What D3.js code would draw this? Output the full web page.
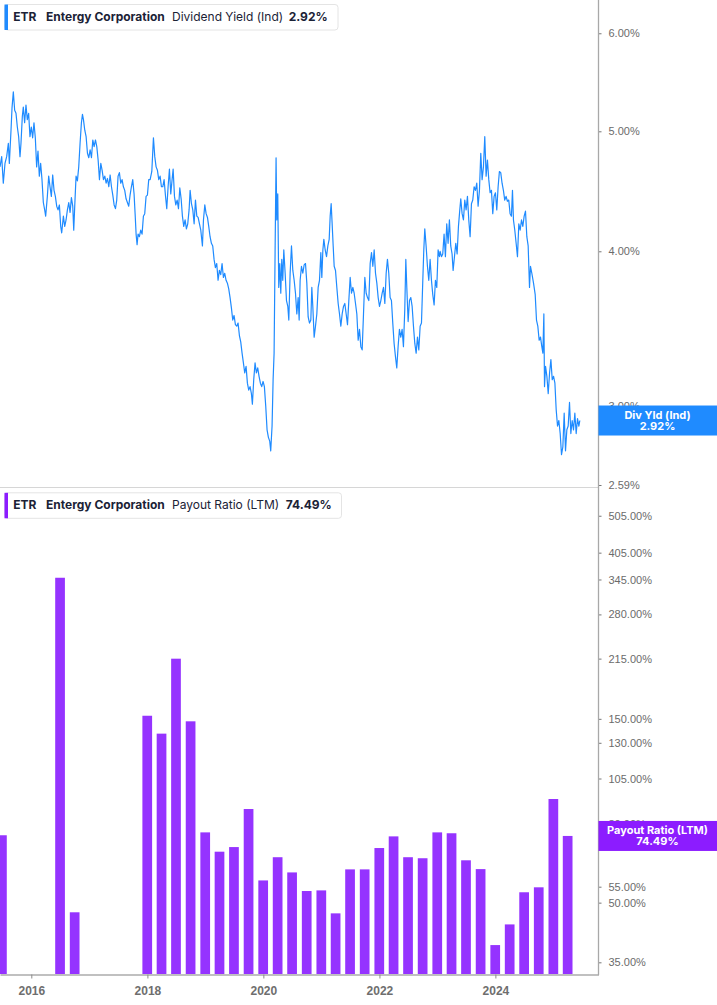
<!DOCTYPE html>
<html>
<head>
<meta charset="utf-8">
<script src="https://cdn.jsdelivr.net/npm/d3@7"></script>
<style>
  body { margin: 0; background: #fff; }
  svg { display: block; font-family: Inter, "Noto Sans", sans-serif; }
</style>
</head>
<body>
<svg width="717" height="1005"></svg>
<script>
// ETR dividend yield (Ind), [decimal year, %]
var yieldSeries = [
  [2015.460,4.68],[2015.489,4.77],[2015.517,4.54],[2015.546,4.71],[2015.575,4.77],[2015.604,4.89],[2015.621,4.71],[2015.650,5.01],
  [2015.667,5.22],[2015.690,5.38],[2015.713,5.20],[2015.736,5.17],[2015.759,5.04],[2015.782,4.95],[2015.805,4.77],[2015.822,4.89],
  [2015.845,5.14],[2015.862,5.23],[2015.885,5.08],[2015.908,5.25],[2015.931,5.11],[2015.954,5.17],[2015.977,4.95],[2016.000,5.04],
  [2016.023,4.94],[2016.046,5.08],[2016.069,4.94],[2016.092,4.68],[2016.115,4.82],[2016.138,4.60],[2016.161,4.71],[2016.184,4.57],
  [2016.207,4.38],[2016.230,4.32],[2016.247,4.27],[2016.276,4.43],[2016.299,4.60],[2016.322,4.51],[2016.345,4.43],[2016.368,4.61],
  [2016.391,4.48],[2016.414,4.43],[2016.437,4.35],[2016.460,4.32],[2016.483,4.36],[2016.506,4.19],[2016.523,4.14],[2016.552,4.27],
  [2016.575,4.19],[2016.598,4.24],[2016.621,4.32],[2016.644,4.38],[2016.667,4.30],[2016.690,4.42],[2016.713,4.35],[2016.730,4.16],
  [2016.747,4.35],[2016.770,4.60],[2016.793,4.56],[2016.816,4.68],[2016.839,4.89],[2016.862,5.08],[2016.880,5.16],[2016.897,5.11],
  [2016.920,5.01],[2016.943,4.95],[2016.966,4.80],[2016.989,4.76],[2017.012,4.83],[2017.035,4.76],[2017.058,4.92],[2017.081,4.86],
  [2017.104,4.92],[2017.127,4.86],[2017.150,4.74],[2017.173,4.57],[2017.196,4.71],[2017.219,4.65],[2017.242,4.57],[2017.265,4.60],
  [2017.288,4.54],[2017.311,4.58],[2017.334,4.51],[2017.357,4.61],[2017.380,4.51],[2017.403,4.44],[2017.426,4.36],[2017.449,4.33],
  [2017.471,4.40],[2017.494,4.60],[2017.517,4.63],[2017.540,4.54],[2017.563,4.57],[2017.586,4.51],[2017.609,4.48],[2017.632,4.41],
  [2017.655,4.38],[2017.678,4.35],[2017.701,4.44],[2017.724,4.51],[2017.747,4.57],[2017.770,4.45],[2017.788,4.29],[2017.805,4.13],
  [2017.822,4.05],[2017.839,4.13],[2017.862,4.11],[2017.885,4.16],[2017.908,4.13],[2017.931,4.27],[2017.954,4.29],[2017.977,4.43],
  [2018.000,4.44],[2018.023,4.57],[2018.047,4.57],[2018.076,4.64],[2018.104,4.94],[2018.127,4.77],[2018.150,4.68],[2018.173,4.65],
  [2018.196,4.57],[2018.219,4.60],[2018.242,4.51],[2018.265,4.51],[2018.288,4.57],[2018.311,4.44],[2018.334,4.33],[2018.357,4.51],
  [2018.380,4.66],[2018.403,4.45],[2018.426,4.57],[2018.444,4.66],[2018.467,4.43],[2018.490,4.36],[2018.513,4.40],[2018.536,4.33],
  [2018.559,4.50],[2018.582,4.41],[2018.604,4.27],[2018.627,4.19],[2018.650,4.24],[2018.673,4.17],[2018.696,4.21],[2018.719,4.32],
  [2018.737,4.48],[2018.760,4.37],[2018.783,4.32],[2018.806,4.21],[2018.829,4.40],[2018.852,4.27],[2018.875,4.26],[2018.898,4.21],
  [2018.921,4.16],[2018.949,4.04],[2018.967,4.24],[2018.990,4.36],[2019.013,4.29],[2019.036,4.26],[2019.058,4.19],[2019.081,4.11],
  [2019.104,4.06],[2019.127,4.04],[2019.150,3.94],[2019.173,3.88],[2019.196,3.91],[2019.219,3.79],[2019.242,3.86],[2019.265,3.83],
  [2019.288,3.91],[2019.311,3.81],[2019.334,3.84],[2019.357,3.79],[2019.380,3.77],[2019.403,3.73],[2019.426,3.67],[2019.449,3.60],
  [2019.472,3.52],[2019.495,3.55],[2019.518,3.49],[2019.541,3.48],[2019.564,3.50],[2019.587,3.42],[2019.610,3.38],[2019.633,3.31],
  [2019.656,3.25],[2019.679,3.19],[2019.702,3.23],[2019.725,3.13],[2019.748,3.09],[2019.771,3.11],[2019.794,3.07],[2019.811,3.01],
  [2019.834,3.15],[2019.857,3.25],[2019.880,3.19],[2019.903,3.22],[2019.926,3.17],[2019.949,3.13],[2019.972,3.11],[2019.995,3.14],
  [2020.018,3.11],[2020.041,3.00],[2020.064,2.87],[2020.087,2.83],[2020.110,2.81],[2020.127,2.76],[2020.150,2.89],[2020.168,3.15],
  [2020.185,3.31],[2020.202,3.99],[2020.219,4.76],[2020.231,4.24],[2020.248,4.45],[2020.265,3.74],[2020.283,3.91],[2020.300,3.70],
  [2020.317,3.94],[2020.334,3.79],[2020.352,4.01],[2020.375,3.84],[2020.398,3.65],[2020.421,3.61],[2020.438,3.52],[2020.461,3.84],
  [2020.484,4.04],[2020.507,3.86],[2020.530,3.79],[2020.553,3.70],[2020.576,3.56],[2020.599,3.67],[2020.616,3.52],[2020.633,3.79],
  [2020.656,3.89],[2020.679,3.84],[2020.702,3.90],[2020.725,3.91],[2020.748,3.77],[2020.771,3.54],[2020.794,3.50],[2020.817,3.52],
  [2020.834,3.74],[2020.851,3.61],[2020.874,3.41],[2020.897,3.48],[2020.920,3.56],[2020.943,3.74],[2020.966,3.79],[2020.989,3.99],
  [2021.006,3.81],[2021.024,4.01],[2021.041,4.09],[2021.064,4.01],[2021.087,3.96],[2021.110,4.04],[2021.133,4.09],[2021.150,4.27],
  [2021.167,4.37],[2021.184,4.21],[2021.202,4.04],[2021.219,3.89],[2021.242,3.86],[2021.265,3.74],[2021.288,3.63],[2021.311,3.56],
  [2021.334,3.48],[2021.357,3.56],[2021.380,3.61],[2021.403,3.63],[2021.426,3.56],[2021.449,3.49],[2021.472,3.65],[2021.495,3.81],
  [2021.518,3.70],[2021.541,3.74],[2021.564,3.70],[2021.587,3.63],[2021.610,3.56],[2021.633,3.39],[2021.656,3.46],[2021.679,3.35],
  [2021.702,3.33],[2021.725,3.56],[2021.748,3.81],[2021.771,3.70],[2021.794,3.67],[2021.817,3.65],[2021.840,3.91],[2021.863,3.99],
  [2021.886,3.89],[2021.909,4.01],[2021.932,3.84],[2021.955,3.77],[2021.978,3.67],[2022.001,3.61],[2022.024,3.65],[2022.047,3.70],
  [2022.070,3.74],[2022.093,3.63],[2022.116,3.84],[2022.138,3.94],[2022.161,3.84],[2022.184,3.67],[2022.207,3.65],[2022.230,3.50],
  [2022.253,3.37],[2022.276,3.29],[2022.299,3.22],[2022.322,3.35],[2022.345,3.46],[2022.368,3.41],[2022.391,3.46],[2022.414,3.35],
  [2022.437,3.59],[2022.455,3.94],[2022.472,3.74],[2022.495,3.51],[2022.518,3.65],[2022.541,3.67],[2022.564,3.61],[2022.587,3.48],
  [2022.610,3.37],[2022.633,3.31],[2022.656,3.41],[2022.679,3.33],[2022.702,3.48],[2022.725,3.50],[2022.748,3.79],[2022.765,4.01],
  [2022.782,4.17],[2022.805,4.04],[2022.828,3.89],[2022.851,3.79],[2022.874,3.94],[2022.897,3.79],[2022.920,3.69],[2022.943,3.62],
  [2022.966,3.79],[2022.989,3.74],[2023.012,4.01],[2023.035,3.96],[2023.047,4.00],[2023.070,3.96],[2023.092,3.98],[2023.115,4.13],
  [2023.138,3.96],[2023.161,4.21],[2023.184,4.06],[2023.207,4.24],[2023.230,4.04],[2023.253,3.98],[2023.271,3.86],[2023.294,3.96],
  [2023.317,4.06],[2023.340,3.98],[2023.363,4.19],[2023.386,4.32],[2023.403,4.41],[2023.426,4.29],[2023.449,4.24],[2023.472,4.40],
  [2023.495,4.32],[2023.518,4.43],[2023.541,4.24],[2023.564,4.11],[2023.587,4.37],[2023.610,4.40],[2023.633,4.51],[2023.656,4.48],
  [2023.679,4.54],[2023.702,4.35],[2023.725,4.48],[2023.748,4.80],[2023.771,4.57],[2023.794,4.68],[2023.817,4.95],[2023.840,4.60],
  [2023.863,4.74],[2023.886,4.57],[2023.909,4.46],[2023.932,4.48],[2023.955,4.29],[2023.978,4.43],[2024.001,4.46],[2024.024,4.32],
  [2024.047,4.51],[2024.069,4.64],[2024.092,4.63],[2024.115,4.54],[2024.138,4.48],[2024.161,4.40],[2024.184,4.43],[2024.207,4.39],
  [2024.230,4.40],[2024.253,4.29],[2024.276,4.27],[2024.294,4.48],[2024.311,4.24],[2024.334,4.16],[2024.357,4.06],[2024.380,3.96],
  [2024.403,4.21],[2024.426,4.16],[2024.449,4.24],[2024.472,4.19],[2024.495,4.27],[2024.518,4.31],[2024.541,4.11],[2024.564,4.04],
  [2024.587,3.74],[2024.604,3.89],[2024.627,3.84],[2024.656,3.77],[2024.685,3.69],[2024.707,3.52],[2024.730,3.48],[2024.753,3.39],
  [2024.776,3.41],[2024.799,3.35],[2024.817,3.31],[2024.834,3.56],[2024.845,3.11],[2024.863,3.23],[2024.886,3.17],[2024.909,3.07],
  [2024.932,3.19],[2024.955,3.27],[2024.978,3.15],[2025.001,3.17],[2025.024,3.13],[2025.046,2.98],[2025.069,2.89],[2025.092,2.92],
  [2025.115,2.85],[2025.138,2.74],[2025.161,2.78],[2025.184,2.96],[2025.207,2.76],[2025.230,2.87],[2025.253,2.89],[2025.276,3.02],
  [2025.299,2.85],[2025.322,2.92],[2025.345,2.87],[2025.368,2.96],[2025.391,2.85],[2025.414,2.93],[2025.437,2.89],[2025.454,2.92]
];

// payout ratio (LTM), quarter ends
var payoutQuarters = ["2015-06-30","2016-06-30","2016-09-30","2017-12-31",
  "2018-03-31","2018-06-30","2018-09-30","2018-12-31","2019-03-31","2019-06-30","2019-09-30","2019-12-31",
  "2020-03-31","2020-06-30","2020-09-30","2020-12-31","2021-03-31","2021-06-30","2021-09-30","2021-12-31",
  "2022-03-31","2022-06-30","2022-09-30","2022-12-31","2023-03-31","2023-06-30","2023-09-30","2023-12-31",
  "2024-03-31","2024-06-30","2024-09-30","2024-12-31","2025-03-31"];
var payoutValues = [74.8, 348.6, 47.2, 152.8,
  137.3, 214.9, 147.8, 76.1, 67.8, 69.7, 87.5, 57.1,
  65.6, 59.9, 53.6, 53.8, 46.9, 61.0, 61.0, 69.3,
  74.3, 65.6, 65.2, 76.1, 75.7, 64.4, 61.1, 38.8,
  43.9, 53.2, 54.8, 92.9, 74.49];

var yieldTicks = [2.59, 3, 4, 5, 6];
var payoutTicks = [35, 50, 55, 80, 105, 130, 150, 215, 280, 345, 405, 505];
var yearTicks = [2016, 2018, 2020, 2022, 2024];

var lastYield = "2.92%";
var lastPayout = "74.49%";

function yearToDate(y) {
  var yr = Math.floor(y);
  var a = new Date(yr, 0, 1), b = new Date(yr + 1, 0, 1);
  return new Date(+a + (y - yr) * (b - a));
}
var parseDay = d3.timeParse("%Y-%m-%d");

var svg = d3.select("svg");
var axisX = 598.5;

var x = d3.scaleTime()
    .domain([yearToDate(2015.46), yearToDate(2025.776)])
    .range([0, axisX]);

var yTop = d3.scaleLog()
    .domain([2.59, 6.383])
    .range([485, 0]);

var yBot = d3.scaleLog()
    .domain([32.64, 589])
    .range([974, 490]);

var defs = svg.append("defs");
defs.append("clipPath").attr("id", "clipTop")
  .append("rect").attr("x", 0).attr("y", 0).attr("width", axisX).attr("height", 487);
defs.append("clipPath").attr("id", "clipBot")
  .append("rect").attr("x", 0).attr("y", 489).attr("width", axisX).attr("height", 485);

// panel separator
svg.append("line")
    .attr("x1", 0).attr("x2", axisX)
    .attr("y1", 487.5).attr("y2", 487.5)
    .attr("stroke", "#d6d6d6").attr("stroke-width", 1);

// yield line
var line = d3.line()
    .x(function(d) { return x(yearToDate(d[0])); })
    .y(function(d) { return yTop(d[1]); });

svg.append("g").attr("clip-path", "url(#clipTop)")
  .append("path")
    .datum(yieldSeries)
    .attr("d", line)
    .attr("fill", "none")
    .attr("stroke", "#1f8bff")
    .attr("stroke-width", 1.2)
    .attr("stroke-linejoin", "round");

// payout bars
var qw = (x(new Date(2019, 0, 1)) - x(new Date(2018, 0, 1))) / 4;
var bw = qw * 0.67;

svg.append("g").attr("clip-path", "url(#clipBot)")
  .selectAll("rect")
  .data(payoutValues)
  .enter()
  .append("rect")
    .attr("x", function(d, i) { return x(parseDay(payoutQuarters[i])) - bw / 2; })
    .attr("y", function(d) { return yBot(d); })
    .attr("width", bw)
    .attr("height", function(d) { return yBot.range()[0] - yBot(d); })
    .attr("fill", "#9533ff");

// axes
function pct(d) { return d.toFixed(2) + "%"; }

var gTop = svg.append("g")
    .attr("transform", "translate(" + axisX + ",0)")
    .call(d3.axisRight(yTop).tickValues(yieldTicks).tickFormat(pct).tickSize(3).tickPadding(7));

var gBot = svg.append("g")
    .attr("transform", "translate(" + axisX + ",0)")
    .call(d3.axisRight(yBot).tickValues(payoutTicks).tickFormat(pct).tickSize(3).tickPadding(7));

[gTop, gBot].forEach(function(g) {
  g.select(".domain").remove();
  g.selectAll(".tick line").attr("stroke", "#777");
  g.selectAll(".tick text")
    .attr("fill", "#6b6b6b")
    .style("font-size", "11px");
});

var gX = svg.append("g")
    .attr("transform", "translate(0,974.5)")
    .call(d3.axisBottom(x)
      .tickValues(yearTicks.map(function(y) { return new Date(y, 0, 1); }))
      .tickFormat(d3.timeFormat("%Y"))
      .tickSize(4).tickSizeOuter(0).tickPadding(8));
gX.select(".domain").attr("stroke", "#ababab").attr("stroke-width", 1.5);
gX.selectAll(".tick line").attr("stroke", "#8a8a8a");
gX.selectAll(".tick text")
    .attr("fill", "#6e6e6e")
    .style("font-size", "12px")
    .style("font-weight", "700");

// vertical axis line
svg.append("line")
    .attr("x1", axisX).attr("x2", axisX)
    .attr("y1", 0).attr("y2", 975)
    .attr("stroke", "#a8a8a8").attr("stroke-width", 1.3);

// last value flags
function flag(yc, color, l1, l2, o1, o2) {
  svg.append("rect")
      .attr("x", axisX).attr("y", yc - 15)
      .attr("width", 717 - axisX).attr("height", 30)
      .attr("fill", color);
  var t = svg.append("g")
      .attr("fill", "#fff")
      .attr("text-anchor", "middle")
      .style("font-size", "11px")
      .style("font-weight", "700");
  t.append("text").attr("x", 657.5).attr("y", yc + o1).text(l1);
  t.append("text").attr("x", 657.5).attr("y", yc + o2).text(l2);
}
flag(yTop(yieldSeries[yieldSeries.length - 1][1]), "#1f8bff", "Div Yld (Ind)", lastYield, -2, 9);
flag(yBot(payoutValues[payoutValues.length - 1]), "#8c1cff", "Payout Ratio (LTM)", lastPayout, -1.5, 9);

// legends
function legend(top, w, color, metric, value, valueX) {
  var g = svg.append("g").attr("transform", "translate(4.5," + top + ")");
  g.append("rect")
      .attr("width", w).attr("height", 25.5).attr("rx", 3)
      .attr("fill", "#fff").attr("stroke", "#e4e4e4");
  g.append("rect")
      .attr("x", 0).attr("y", 0).attr("width", 3.5).attr("height", 25.5)
      .attr("fill", color);
  var t = g.append("g").attr("fill", "#1b2236").style("font-size", "12px");
  t.append("text").attr("x", 8.8).attr("y", 16.5).style("font-weight", "700").text("ETR");
  t.append("text").attr("x", 41.5).attr("y", 16.5).style("font-weight", "700").text("Entergy Corporation");
  t.append("text").attr("x", 167.5).attr("y", 16.5).text(metric);
  t.append("text").attr("x", valueX - 4.5).attr("y", 16.5).style("font-weight", "700").text(value);
}
legend(4.5, 333.5, "#1f8bff", "Dividend Yield (Ind)", lastYield, 288.7);
legend(492.8, 337, "#8c1cff", "Payout Ratio (LTM)", lastPayout, 285.7);
</script>
</body>
</html>
